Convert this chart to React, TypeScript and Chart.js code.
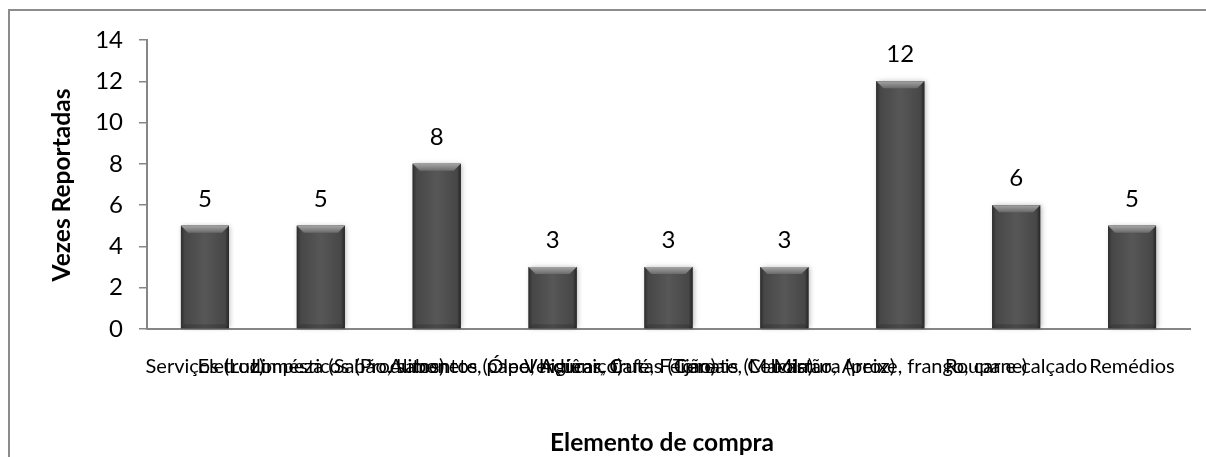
import React, { useEffect, useRef } from "react";
import { Chart, registerables } from "chart.js";

Chart.register(...registerables);

const categories: string[] = [
  "Serviços (Luz)",
  "Eletrodomésticos (Produtos)",
  "Limpeza (Sabão, sabonete, papel higiênico)",
  "Alimentos (Óleo, Açúcar, Café, Feijão)",
  "Verduras, frutas (Tomate, Cebola)",
  "Cereais (Macarrão, Arroz)",
  "Mistura (peixe, frango, carne)",
  "Roupa e calçado",
  "Remédios",
];
const values: number[] = [5, 5, 8, 3, 3, 3, 12, 6, 5];
const yMin = 0;
const yMax = 14;
const yStep = 2;
const yTitle = "Vezes Reportadas";
const xTitle = "Elemento de compra";

const FONT = "Lato, 'Liberation Sans', sans-serif";

const decorPlugin = {
  id: "decor",
  beforeDraw(chart: any) {
    const ctx = chart.ctx;
    ctx.save();
    ctx.fillStyle = "#ffffff";
    ctx.fillRect(0, 0, chart.width, chart.height);
    ctx.strokeStyle = "#8c8c8c";
    ctx.lineWidth = 2;
    ctx.beginPath();
    ctx.moveTo(9, chart.height);
    ctx.lineTo(9, 10);
    ctx.lineTo(chart.width, 10);
    ctx.stroke();
    ctx.restore();
  },
  afterDatasetsDraw(chart: any) {
    const ctx = chart.ctx;
    const meta = chart.getDatasetMeta(0);
    ctx.save();
    meta.data.forEach((el: any, i: number) => {
      const { x, y, base, width } = el.getProps(["x", "y", "base", "width"], true);
      const l = x - width / 2;
      const r = x + width / 2;
      const h = base - y;
      ctx.save();
      ctx.shadowColor = "rgba(0,0,0,0.3)";
      ctx.shadowBlur = 5;
      ctx.shadowOffsetX = 1.5;
      ctx.fillStyle = "#4a4a4a";
      ctx.fillRect(l, y, width, h);
      ctx.restore();
      const g = ctx.createLinearGradient(l, 0, r, 0);
      g.addColorStop(0, "#2e2e2e");
      g.addColorStop(0.08, "#474747");
      g.addColorStop(0.5, "#575757");
      g.addColorStop(0.92, "#474747");
      g.addColorStop(1, "#262626");
      ctx.fillStyle = g;
      ctx.fillRect(l, y, width, h);
      const bv = Math.min(7, h / 2);
      const gt = ctx.createLinearGradient(0, y, 0, y + bv);
      gt.addColorStop(0, "#a4a4a4");
      gt.addColorStop(1, "#6a6a6a");
      ctx.fillStyle = gt;
      ctx.beginPath();
      ctx.moveTo(l, y);
      ctx.lineTo(r, y);
      ctx.lineTo(r - bv, y + bv);
      ctx.lineTo(l + bv, y + bv);
      ctx.closePath();
      ctx.fill();
      ctx.fillStyle = "rgba(0,0,0,0.15)";
      ctx.beginPath();
      ctx.moveTo(l, base);
      ctx.lineTo(r, base);
      ctx.lineTo(r - 4, base - 4);
      ctx.lineTo(l + 4, base - 4);
      ctx.closePath();
      ctx.fill();
      ctx.fillStyle = "#000000";
      ctx.font = `24px ${FONT}`;
      ctx.textAlign = "center";
      ctx.textBaseline = "middle";
      ctx.fillText(String(values[i]), x, y - 27);
    });
    ctx.restore();
  },
  afterDraw(chart: any) {
    const ctx = chart.ctx;
    ctx.save();
    ctx.fillStyle = "#000000";
    ctx.font = `bold 24.5px ${FONT}`;
    ctx.textAlign = "center";
    ctx.textBaseline = "middle";
    ctx.fillText(xTitle, 662, 443);
    ctx.translate(62, 185);
    ctx.rotate(-Math.PI / 2);
    ctx.fillText(yTitle, 0, 0);
    ctx.restore();
  },
};

export default function App() {
  const ref = useRef<HTMLCanvasElement | null>(null);
  useEffect(() => {
    document.body.style.margin = "0";
    const canvas = ref.current;
    if (!canvas) return;
    const chart = new Chart(canvas, {
      type: "bar",
      data: {
        labels: categories,
        datasets: [
          {
            data: values,
            backgroundColor: "#4a4a4a",
            barPercentage: 0.414,
            categoryPercentage: 1,
          },
        ],
      },
      options: {
        responsive: false,
        animation: false,
        layout: { padding: { left: 0, top: 40, right: 16, bottom: 0 } },
        plugins: {
          legend: { display: false },
          tooltip: { enabled: false },
        },
        scales: {
          x: {
            grid: { display: false },
            border: { display: true, color: "#868686", width: 2 },
            ticks: {
              autoSkip: false,
              maxRotation: 0,
              minRotation: 0,
              padding: 18,
              color: "#000000",
              font: { family: FONT, size: 20 },
            },
            afterFit: (s: any) => {
              s.height = 128;
            },
          },
          y: {
            min: yMin,
            max: yMax,
            ticks: {
              stepSize: yStep,
              padding: 16,
              color: "#000000",
              font: { family: FONT, size: 24 },
            },
            grid: {
              drawOnChartArea: false,
              drawTicks: true,
              tickLength: 8,
              color: "#868686",
              lineWidth: 1.5,
            },
            border: { display: true, color: "#868686", width: 2 },
            afterFit: (s: any) => {
              s.width = 147;
            },
          },
        },
      },
      plugins: [decorPlugin],
    });
    return () => chart.destroy();
  }, []);
  return (
    <div style={{ position: "fixed", left: 0, top: 0, width: 1206, height: 457, background: "#fff" }}>
      <canvas ref={ref} width={1206} height={457} />
    </div>
  );
}
